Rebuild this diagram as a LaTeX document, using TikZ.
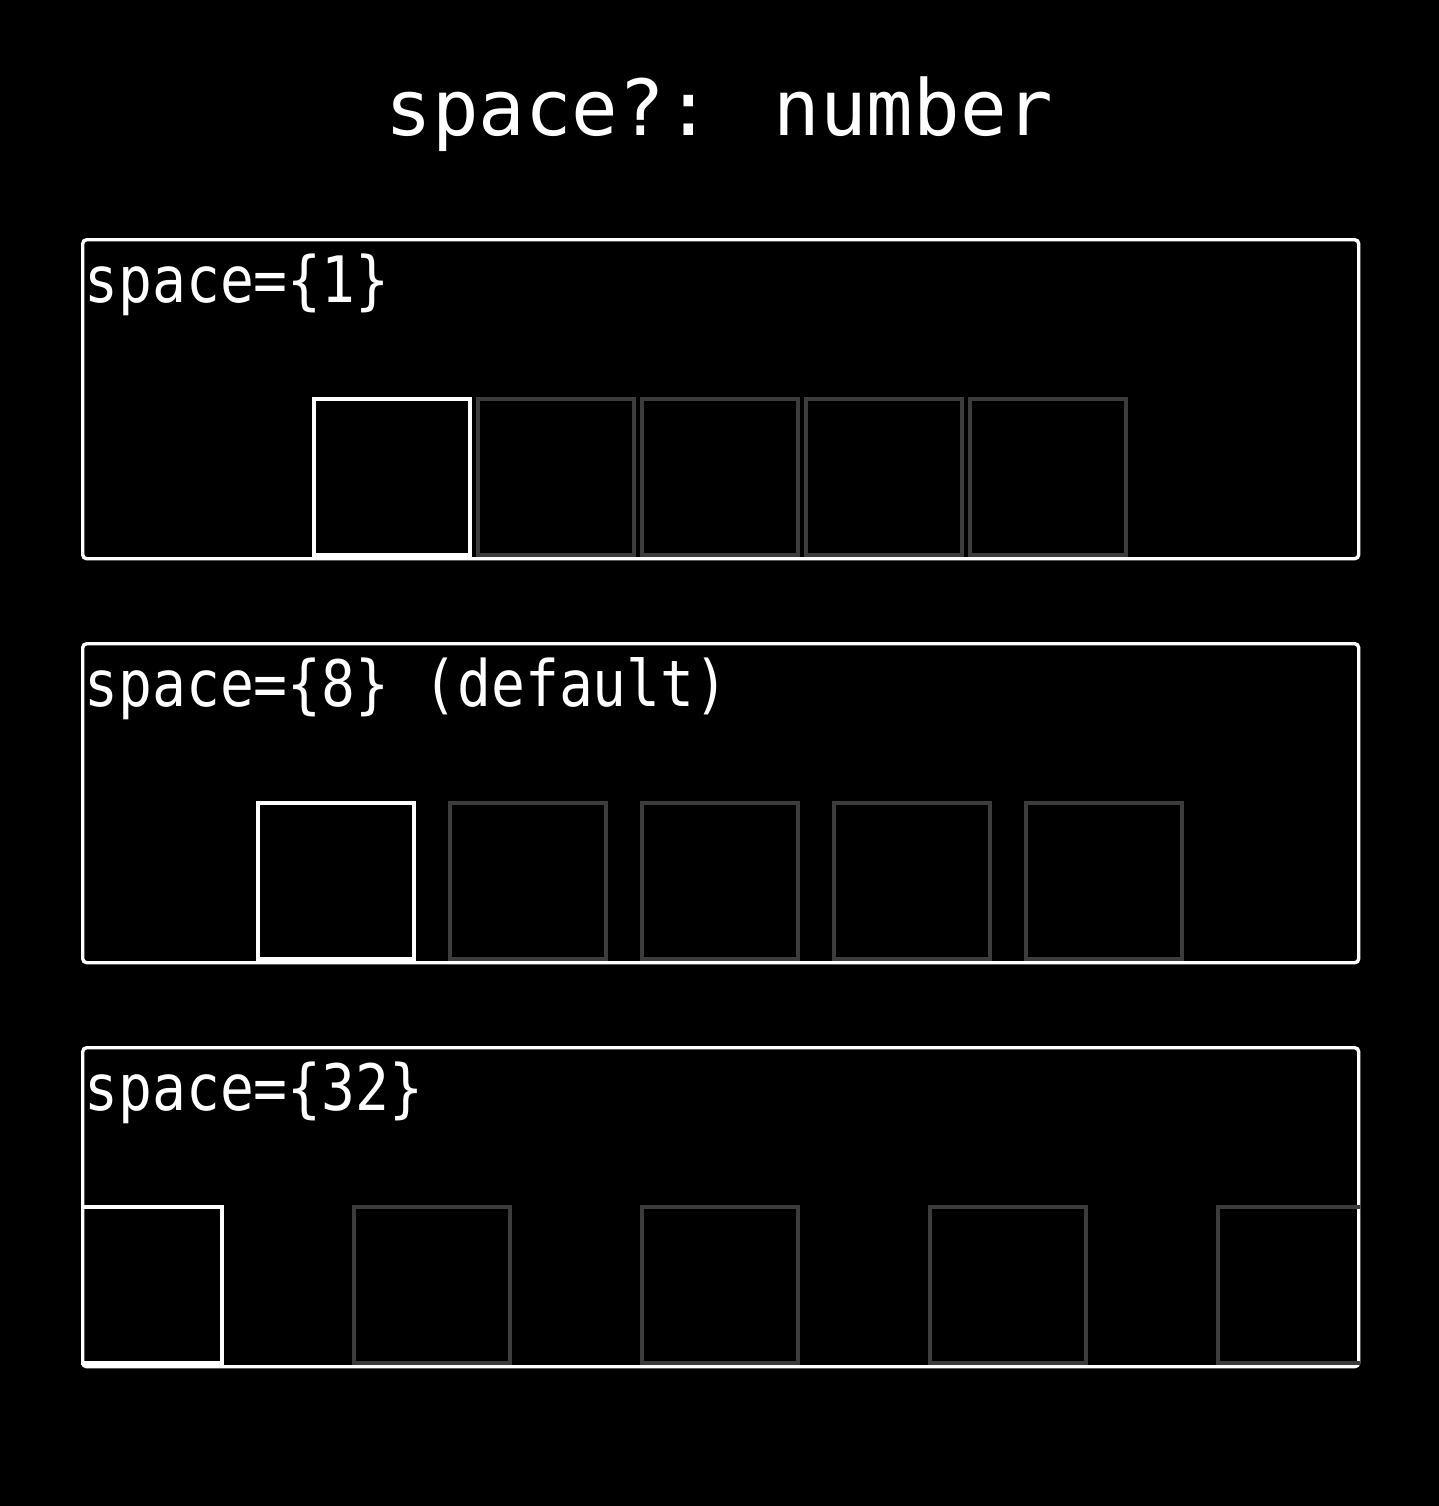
\documentclass[tikz,border=0pt]{standalone}
\usepackage{fontspec}
\newfontfamily\titlefont{DejaVu Sans Mono}
\newfontfamily\lblfont[FakeStretch=0.88]{DejaVu Sans Mono}
\definecolor{cellgray}{RGB}{60,60,60}

\begin{document}
\begin{tikzpicture}[x=0.5pt,y=-0.5pt,
  panel/.style={draw=white,line width=1.7pt,rounded corners=2pt,inner sep=0pt,
    minimum width=638pt,minimum height=159.5pt,anchor=north west},
  cell/.style={draw=cellgray,line width=1.7pt,inner sep=0pt,minimum size=78pt},
  first/.style={cell,draw=white},
  lbl/.style={text=white,inner sep=0pt,anchor=base west,
    font=\lblfont\fontsize{32}{36}\selectfont}]
\fill[black] (0,0) rectangle (1439,1506);
\node[text=white,inner sep=0pt,anchor=base,
  font=\titlefont\fontsize{38.7}{44}\selectfont] (title) at (719.5,135) {space?: number};
% space=1
\node[panel] (p1) at (81,238) {};
\node[lbl] (l1) at (84,302) {space=\{1\}};
\node[first] (a0) at (392,477) {};
\foreach \i in {1,...,4}
  \node[cell] (a\i) at ({392+164*\i},477) {};
% space=8
\node[panel] (p2) at (81,642) {};
\node[lbl] (l2) at (84,706) {space=\{8\} (default)};
\node[first] (b0) at (336,881) {};
\foreach \i in {1,...,4}
  \node[cell] (b\i) at ({336+192*\i},881) {};
% space=32, clipped by the panel
\node[panel] (p3) at (81,1046) {};
\node[lbl] (l3) at (84,1110) {space=\{32\}};
\begin{scope}
\clip (p3.north west) rectangle (p3.south east);
\node[first] (c0) at (144,1285) {};
\foreach \i in {1,...,4}
  \node[cell] (c\i) at ({144+288*\i},1285) {};
\end{scope}
\end{tikzpicture}
\end{document}
